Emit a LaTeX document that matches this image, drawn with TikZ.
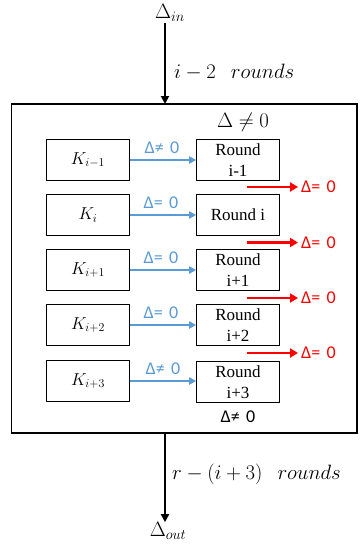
\documentclass[tikz,border=0pt]{standalone}
\usepackage{fontspec}
\setmainfont{Liberation Serif}
\newfontfamily\carl{Carlito}
\usetikzlibrary{arrows.meta}
\definecolor{myblue}{RGB}{91,155,213}
\definecolor{myred}{RGB}{255,0,0}
\newcommand{\dne}{Δ≠\hspace{0.35em}0}
\newcommand{\deq}{Δ=\hspace{0.35em}0}
\begin{document}
\begin{tikzpicture}[x=1pt,y=-1pt,
  kbox/.style={draw, line width=1pt, minimum width=82.6pt, minimum height=41pt, inner sep=0pt, font=\fontsize{18}{20}\selectfont},
  rbox/.style={draw, line width=1pt, minimum width=82.6pt, minimum height=41pt, inner sep=0pt, align=center, font=\fontsize{17}{21}\selectfont},
  bluearr/.style={draw=myblue, line width=1.8pt, -{Triangle[length=7pt,width=7pt]}},
  redarr/.style={draw=myred, line width=2.4pt, shorten >=3pt, -{Triangle[length=8pt,width=9pt]}},
  bluelab/.style={text=myblue, font=\carl\fontsize{18}{20}\selectfont, inner sep=0pt},
  redlab/.style={text=myred, font=\carl\fontsize{18}{20}\selectfont, inner sep=0pt, anchor=west},
  mainarr/.style={draw=black, line width=1.8pt, -{Triangle[length=8pt,width=8pt]}},
  mlab/.style={font=\fontsize{21}{24}\selectfont, inner sep=0pt}
]
\useasboundingbox (0,0) rectangle (360,551);
\fill[white] (0,0) rectangle (360,551);

\draw[line width=1.2pt] (11.7,104) rectangle (357,433);
\coordinate (outN) at (165,104);
\coordinate (outS) at (165,433);

\node[mlab] (din) at (170,13) {$\Delta_{in}$};
\coordinate (ta) at (165,23);
\draw[mainarr] (ta) -- (outN);
\node[mlab, anchor=west] (lab1) at (174,72) {$i-2\;\;\, rounds$};

\node[mlab] (dout) at (168,531) {$\Delta_{out}$};
\draw[mainarr] (outS) -- (outS |- dout.north);
\node[mlab, anchor=west] (lab2) at (172,474) {$r-(i+3)\;\;\, rounds$};

\node[mlab] (topne) at (243,122) {$\Delta\neq 0$};
\node[bluelab, text=black] (botne) at (238,417) {\dne};

% rows
\node[kbox] (k1) at (88,160) {$K_{i-1}$};
\node[kbox] (k2) at (88,215) {$K_{i}$};
\node[kbox] (k3) at (88,270) {$K_{i+1}$};
\node[kbox] (k4) at (88,325) {$K_{i+2}$};
\node[kbox] (k5) at (88,381) {$K_{i+3}$};

\node[rbox] (r1) at (238,160) {Round\\i-1};
\node[rbox] (r2) at (238,215) {Round i};
\node[rbox] (r3) at (238,270) {Round\\i+1};
\node[rbox] (r4) at (238,325) {Round\\i+2};
\node[rbox] (r5) at (238,382) {Round\\i+3};

\draw[bluearr] (k1.east) -- (r1.west |- k1.east);
\draw[bluearr] (k2.east) -- (r2.west |- k2.east);
\draw[bluearr] (k3.east) -- (r3.west |- k3.east);
\draw[bluearr] (k4.east) -- (r4.west |- k4.east);
\draw[bluearr] (k5.east) -- (r5.west |- k5.east);

\node[bluelab] (b1) at (162,148) {\dne};
\node[bluelab] (b2) at (161,203) {\deq};
\node[bluelab] (b3) at (161,258) {\deq};
\node[bluelab] (b4) at (161,313) {\deq};
\node[bluelab] (b5) at (163,369) {\dne};

% red arrows
\coordinate (s1) at (247,187);
\coordinate (s2) at (247,242.5);
\coordinate (s3) at (247,298);
\coordinate (s4) at (247,353);
\node[redlab] (e1) at (301,187) {\deq};
\node[redlab] (e2) at (301,242.5) {\deq};
\node[redlab] (e3) at (301,298) {\deq};
\node[redlab] (e4) at (301,353) {\deq};
\draw[redarr] (s1) -- (e1.west);
\draw[redarr] (s2) -- (e2.west);
\draw[redarr] (s3) -- (e3.west);
\draw[redarr] (s4) -- (e4.west);
\end{tikzpicture}
\end{document}
